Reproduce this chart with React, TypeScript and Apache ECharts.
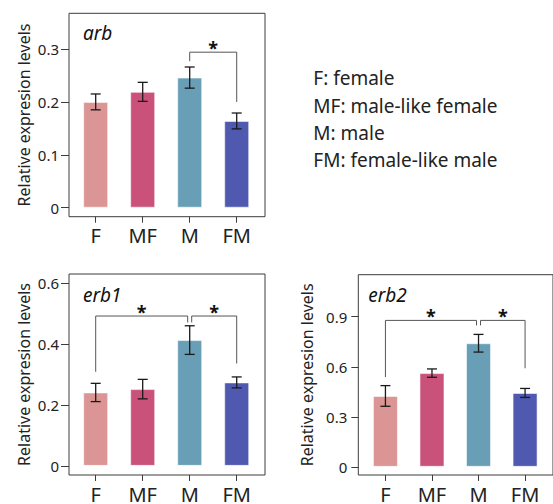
import React, { useEffect, useRef } from "react";
import * as echarts from "echarts";

const categories = ["F", "MF", "M", "FM"];
const barColors = ["#DA9594", "#C9517A", "#689FB6", "#4E59AF"];

const arbMean = [0.2, 0.219, 0.246, 0.164];
const arbErr = [0.015, 0.018, 0.02, 0.015];
const erb1Mean = [0.241, 0.252, 0.413, 0.274];
const erb1Err = [0.03, 0.032, 0.047, 0.018];
const erb2Mean = [0.425, 0.562, 0.741, 0.443];
const erb2Err = [0.062, 0.025, 0.053, 0.027];

// [fromIndex, toIndex, bracketTop, leftLegEnd, rightLegEnd]
const arbSig = [[2, 3, 0.294, 0.277, 0.2]];
const erb1Sig = [
  [0, 2, 0.492, 0.309, 0.471],
  [2, 3, 0.492, 0.471, 0.336],
];
const erb2Sig = [
  [0, 2, 0.878, 0.538, 0.848],
  [2, 3, 0.878, 0.848, 0.591],
];

const arbTicks = [0, 0.1, 0.2, 0.3];
const erb1Ticks = [0, 0.2, 0.4, 0.6];
const erb2Ticks = [0, 0.3, 0.6, 0.9];

const geneNames = ["arb", "erb1", "erb2"];
const legendLines = ["F: female", "MF: male-like female", "M: male", "FM: female-like male"];
const yTitle = "Relative expresion levels";

const FONT = "'Noto Sans', 'Open Sans', sans-serif";
const TEXT = "#222";

export default function App() {
  const ref = useRef<HTMLDivElement>(null);
  useEffect(() => {
    if (!ref.current) return;
    const chart = echarts.init(ref.current, null, { renderer: "svg" });

    const panels = [
      { mean: arbMean, err: arbErr, sig: arbSig, ticks: arbTicks, grid: { left: 69, top: 13.3, width: 196, height: 203.4 }, ymin: -0.017, ymax: 0.3675, xmin: -0.568, xmax: 3.602, tickLen: 8, labMargin: 10, nameGap: 37 },
      { mean: erb1Mean, err: erb1Err, sig: erb1Sig, ticks: erb1Ticks, grid: { left: 69, top: 274, width: 196, height: 204.3 }, ymin: -0.03, ymax: 0.63, xmin: -0.568, xmax: 3.602, tickLen: 8, labMargin: 10, nameGap: 37 },
      { mean: erb2Mean, err: erb2Err, sig: erb2Sig, ticks: erb2Ticks, grid: { left: 358.3, top: 274.7, width: 196.6, height: 202.6 }, ymin: -0.049, ymax: 1.152, xmin: -0.583, xmax: 3.6, tickLen: 7, labMargin: 11, nameGap: 43 },
    ];

    const grids: any[] = [];
    const xAxes: any[] = [];
    const yAxes: any[] = [];
    const series: any[] = [];

    panels.forEach((p, i) => {
      grids.push({ ...p.grid, show: true, borderColor: "#3c3c3c", borderWidth: 1, backgroundColor: "transparent" });
      xAxes.push({
        gridIndex: i,
        type: "value",
        min: p.xmin,
        max: p.xmax,
        axisLine: { show: false, onZero: false },
        splitLine: { show: false },
        axisTick: { show: true, length: 6, customValues: [0, 1, 2, 3], lineStyle: { color: "#3c3c3c" } },
        axisLabel: {
          customValues: [0, 1, 2, 3],
          formatter: (v: number) => categories[Math.round(v)] ?? "",
          fontSize: 20,
          fontFamily: FONT,
          color: TEXT,
          margin: 9,
        },
      });
      yAxes.push({
        gridIndex: i,
        type: "value",
        min: p.ymin,
        max: p.ymax,
        name: yTitle,
        nameLocation: "middle",
        nameGap: p.nameGap,
        nameTextStyle: { fontSize: 16, fontFamily: FONT, color: TEXT },
        axisLine: { show: false, onZero: false },
        splitLine: { show: false },
        axisTick: { show: true, length: p.tickLen, customValues: p.ticks, lineStyle: { color: "#3c3c3c" } },
        axisLabel: {
          customValues: p.ticks,
          formatter: (v: number) => (v === 0 ? "0" : v.toFixed(1)),
          fontSize: 15,
          fontFamily: FONT,
          color: TEXT,
          margin: p.labMargin,
        },
      });
      series.push({
        type: "bar",
        xAxisIndex: i,
        yAxisIndex: i,
        barWidth: 25,
        z: 2,
        data: p.mean.map((m, k) => ({
          value: [k, m],
          itemStyle: { color: barColors[k], borderColor: "rgba(255,255,255,0.55)", borderWidth: 1 },
        })),
      });
      series.push({
        type: "custom",
        xAxisIndex: i,
        yAxisIndex: i,
        clip: false,
        z: 10,
        data: p.mean.map((m, k) => [k, m, p.err[k]]),
        encode: { x: 0, y: 1 },
        renderItem: (params: any, api: any) => {
          const x = api.value(0), m = api.value(1), e = api.value(2);
          const top = api.coord([x, m + e]);
          const bot = api.coord([x, m - e]);
          const hw = 5;
          const st = { stroke: "#1a1a1a", lineWidth: 1.3 };
          return {
            type: "group",
            children: [
              { type: "line", shape: { x1: top[0], y1: top[1], x2: bot[0], y2: bot[1] }, style: st },
              { type: "line", shape: { x1: top[0] - hw, y1: top[1], x2: top[0] + hw, y2: top[1] }, style: st },
              { type: "line", shape: { x1: bot[0] - hw, y1: bot[1], x2: bot[0] + hw, y2: bot[1] }, style: st },
            ],
          };
        },
      });
      const sig = p.sig;
      series.push({
        type: "custom",
        xAxisIndex: i,
        yAxisIndex: i,
        clip: false,
        z: 10,
        data: sig,
        encode: { x: 0, y: 2 },
        renderItem: (params: any, api: any) => {
          const x1 = api.value(0), x2 = api.value(1), yt = api.value(2), yl = api.value(3), yr = api.value(4);
          const shL = sig.some((o) => o[1] === x1) ? 2 : 0;
          const shR = sig.some((o) => o[0] === x2) ? -2 : 0;
          const pL = api.coord([x1, yl]);
          const pT = api.coord([x1, yt]);
          const pR = api.coord([x2, yr]);
          const xL = pL[0] + shL;
          const xR = pR[0] + shR;
          return {
            type: "group",
            children: [
              {
                type: "polyline",
                shape: { points: [[xL, pL[1]], [xL, pT[1]], [xR, pT[1]], [xR, pR[1]]] },
                style: { stroke: "#555", lineWidth: 1, fill: "none" },
              },
              {
                type: "text",
                x: (xL + xR) / 2,
                y: pT[1] - 4,
                style: { text: "*", fontSize: 18, fontWeight: "bold", fontFamily: FONT, fill: "#111", align: "center", verticalAlign: "middle" },
              },
            ],
          };
        },
      });
    });

    const graphics: any[] = [];
    const genePos = [
      [83, 32.7],
      [83, 295.4],
      [368.3, 295.4],
    ];
    geneNames.forEach((g, i) => {
      graphics.push({
        type: "text",
        x: genePos[i][0],
        y: genePos[i][1],
        style: { text: g, fontSize: 19, fontStyle: "italic", fontFamily: FONT, fill: "#111", align: "left", verticalAlign: "middle" },
      });
    });
    legendLines.forEach((t, i) => {
      graphics.push({
        type: "text",
        x: 313.3,
        y: 78.3 + i * 27.3,
        style: { text: t, fontSize: 19, fontFamily: FONT, fill: TEXT, align: "left", verticalAlign: "middle" },
      });
    });

    chart.setOption({
      animation: false,
      backgroundColor: "#fff",
      grid: grids,
      xAxis: xAxes,
      yAxis: yAxes,
      series,
      graphic: graphics,
    });
    return () => chart.dispose();
  }, []);
  return <div ref={ref} style={{ position: "fixed", left: 0, top: 0, width: 553, height: 504 }} />;
}
